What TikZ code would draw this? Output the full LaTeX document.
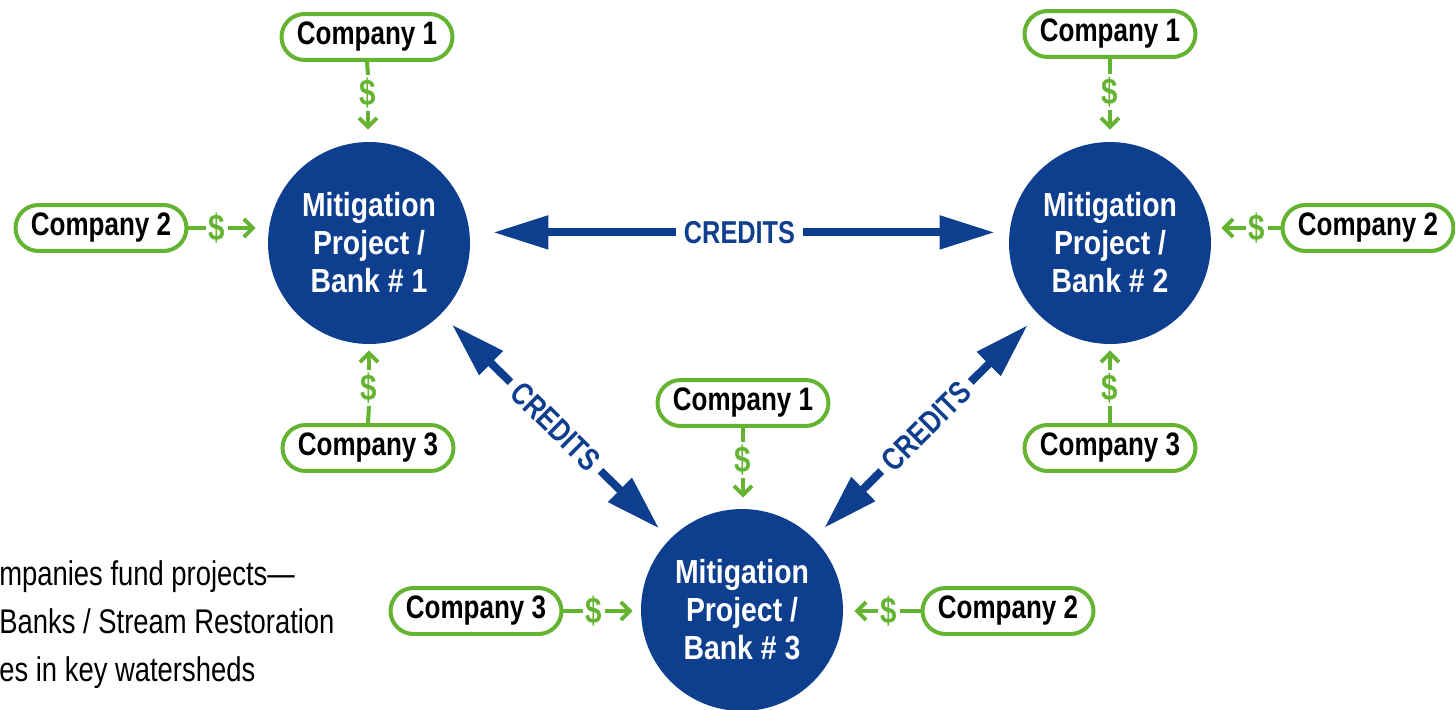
\documentclass[tikz,border=0pt]{standalone}
\usepackage{fontspec}
\setmainfont[FakeStretch=0.8]{Liberation Sans}
\newfontfamily\credfont[FakeStretch=0.8]{Liberation Sans}
\newfontfamily\bankfont[FakeStretch=0.85]{Liberation Sans}
\newfontfamily\bodyfont[FakeStretch=0.8]{Liberation Sans}
\usetikzlibrary{shapes.misc,arrows.meta}
\definecolor{bankblue}{RGB}{14,62,142}
\definecolor{cgreen}{RGB}{100,180,50}
\begin{document}
\begin{tikzpicture}[x=0.02cm,y=-0.02cm,
 company/.style={rounded rectangle, draw=cgreen, line width=0.08cm, minimum width=3.42cm, minimum height=0.92cm, inner sep=0pt, font=\bfseries\fontsize{18.5}{20}\selectfont, fill=white},
 bank/.style={circle, fill=bankblue, minimum size=4.04cm, inner sep=0pt, text=white, align=center, font=\bankfont\bfseries\fontsize{19}{21.6}\selectfont},
 dollar/.style={text=cgreen, font=\bfseries\fontsize{21}{22}\selectfont, inner sep=1.5pt},
 fund/.style={draw=cgreen, line width=0.08cm},
 fundarrow/.style={fund, -{Straight Barb[length=0.18cm,width=0.36cm]}},
 credit/.style={draw=bankblue, line width=0.16cm, {Triangle[length=1.1cm,width=0.64cm]}-{Triangle[length=1.1cm,width=0.64cm]}},
 creditlabel/.style={text=bankblue, font=\credfont\bfseries\fontsize{18}{20}\selectfont, fill=white, inner xsep=0.15cm, inner ysep=0pt},
 bodytext/.style={anchor=base west, inner sep=0pt, font=\bodyfont\fontsize{19.5}{21}\selectfont}
]
\useasboundingbox (0,0) rectangle (1455,710);

% banks
\node[bank] (b1) at (369,243) {Mitigation\\Project /\\Bank \# 1};
\node[bank] (b2) at (1110,243) {Mitigation\\Project /\\Bank \# 2};
\node[bank] (b3) at (742,610) {Mitigation\\Project /\\Bank \# 3};

% companies
\node[company] (c11) at (367,37) {Company 1};
\node[company] (c12) at (101,228) {Company 2};
\node[company] (c13) at (368,448) {Company 3};
\node[company] (c21) at (1110,34) {Company 1};
\node[company] (c22) at (1368,228) {Company 2};
\node[company] (c23) at (1110,448) {Company 3};
\node[company] (c31) at (743,403) {Company 1};
\node[company] (c33) at (476,611) {Company 3};
\node[company] (c32) at (1008,611) {Company 2};

% dollars
\node[dollar] (d11) at (368,93) {\$};
\node[dollar] (d12) at (217,228) {\$};
\node[dollar] (d13) at (369,388) {\$};
\node[dollar] (d21) at (1110,92) {\$};
\node[dollar] (d22) at (1257,228) {\$};
\node[dollar] (d23) at (1110,388) {\$};
\node[dollar] (d31) at (743,460) {\$};
\node[dollar] (d33) at (594,611) {\$};
\node[dollar] (d32) at (889,611) {\$};

\draw[fund] (c11.south) -- (d11.north);
\draw[fundarrow, shorten >=0.24cm] (d11.south) -- (d11.south |- b1.north);
\draw[fund] (c12.east) -- (d12.west);
\draw[fundarrow, shorten >=0.24cm] (d12.east) -- (d12.east -| b1.west);
\draw[fund] (c13.north) -- (d13.south);
\draw[fundarrow, shorten >=0.12cm] (d13.north) -- (d13.north |- b1.south);

\draw[fund] (c21.south) -- (d21.north);
\draw[fundarrow, shorten >=0.24cm] (d21.south) -- (d21.south |- b2.north);
\draw[fund] (c22.west) -- (d22.east);
\draw[fundarrow, shorten >=0.2cm] (d22.west) -- (d22.west -| b2.east);
\draw[fund] (c23.north) -- (d23.south);
\draw[fundarrow, shorten >=0.12cm] (d23.north) -- (d23.north |- b2.south);

\draw[fund] (c31.south) -- (d31.north);
\draw[fundarrow, shorten >=0.22cm] (d31.south) -- (d31.south |- b3.north);
\draw[fund] (c33.east) -- (d33.west);
\draw[fundarrow, shorten >=0.16cm] (d33.east) -- (d33.east -| b3.west);
\draw[fund] (c32.west) -- (d32.east);
\draw[fundarrow, shorten >=0.22cm] (d32.west) -- (d32.west -| b3.east);

% credits
\draw[credit, shorten <=0.47cm, shorten >=0.29cm] (b1.6) -- (b2.174) node[midway, creditlabel] {CREDITS};
\draw[credit, shorten <=0.3cm, shorten >=0.3cm] (b1) -- (b3) node[midway, sloped, creditlabel] {CREDITS};
\draw[credit, shorten <=0.3cm, shorten >=0.3cm] (b3) -- (b2) node[midway, sloped, creditlabel] {CREDITS};

% text
\node[bodytext] (t1) at (-1,585) {mpanies fund projects—};
\node[bodytext] (t2) at (-1,633) {Banks / Stream Restoration};
\node[bodytext] (t3) at (-1,681) {es in key watersheds};
\end{tikzpicture}
\end{document}
